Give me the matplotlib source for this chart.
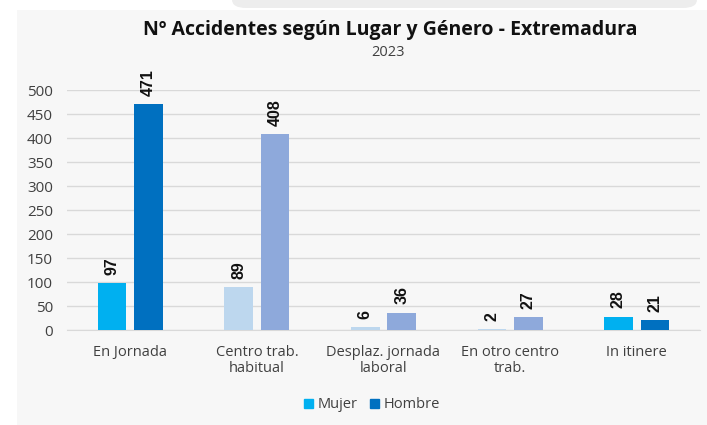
import matplotlib
matplotlib.use("Agg")
import matplotlib.pyplot as plt
import numpy as np
from matplotlib.patches import Rectangle, FancyBboxPatch, Patch

categories = ["En Jornada", "Centro trab.\nhabitual", "Desplaz. jornada\nlaboral",
              "En otro centro\ntrab.", "In itinere"]
mujer = [97, 89, 6, 2, 28]
hombre = [471, 408, 36, 27, 21]
mujer_colors = ["#00B0F0", "#BDD7EE", "#BDD7EE", "#BDD7EE", "#00B0F0"]
hombre_colors = ["#0070C0", "#8EA9DB", "#8EA9DB", "#8EA9DB", "#0070C0"]
yticks = list(range(0, 501, 50))

plt.rcParams["font.family"] = ["Open Sans", "DejaVu Sans"]

fig = plt.figure(figsize=(7.07, 4.25), dpi=100)
fig.patch.set_facecolor("white")

# light panel behind the chart
fig.patches.append(Rectangle((17 / 707, 0), 1 - 17 / 707, 1 - 10 / 425,
                             transform=fig.transFigure, facecolor="#F7F7F7",
                             edgecolor="none", zorder=-10))
fig.patches.append(FancyBboxPatch((232 / 707, 1 - 8 / 425), 465 / 707, 20 / 425,
                                  boxstyle="round,pad=0,rounding_size=0.02",
                                  transform=fig.transFigure, facecolor="#EDEDED",
                                  edgecolor="none", zorder=-10))

ax = fig.add_axes([67 / 707, 1 - 330 / 425, (700 - 67) / 707, (330 - 90) / 425])
ax.set_facecolor("none")
ax.set_zorder(5)

x = np.arange(len(categories))
w = 0.225
off = 0.144
bm = ax.bar(x - off, mujer, w, color=mujer_colors, zorder=3)
bh = ax.bar(x + off, hombre, w, color=hombre_colors, zorder=3)

for bars, vals in ((bm, mujer), (bh, hombre)):
    for b, v in zip(bars, vals):
        ax.annotate(str(v), (b.get_x() + b.get_width() / 2, v),
                    xytext=(0, 6), textcoords="offset points",
                    rotation=90, ha="center", va="bottom",
                    fontsize=11.5, fontweight="bold", color="#111111",
                    family=["Liberation Sans", "DejaVu Sans"])

ax.set_xlim(-0.5, len(categories) - 0.5)
ax.set_ylim(0, 500)
ax.set_yticks(yticks)
ax.yaxis.grid(True, color="#D9D9D9", linewidth=1.0, zorder=0)
ax.set_axisbelow(True)
ax.set_xticks(x)
ax.set_xticklabels(categories, fontsize=10.5, color="#404040", linespacing=1.05)
ax.tick_params(axis="y", labelsize=11, labelcolor="#404040", length=0, pad=10)
ax.tick_params(axis="x", length=0, pad=11)
for s in ax.spines.values():
    s.set_visible(False)
ax.spines["bottom"].set_visible(True)
ax.spines["bottom"].set_color("#D9D9D9")

fig.text(390 / 707, 1 - 30 / 425, "Nº Accidentes según Lugar y Género - Extremadura",
         ha="center", va="center", fontsize=14, fontweight="bold", color="#111111")
fig.text(388 / 707, 1 - 52 / 425, "2023", ha="center", va="center",
         fontsize=10.5, color="#404040")

handles = [Patch(color="#00B0F0", label="Mujer"), Patch(color="#0070C0", label="Hombre")]
fig.legend(handles=handles, loc="center", bbox_to_anchor=(372 / 707, 1 - 405 / 425),
           ncol=2, frameon=False, fontsize=10.5, handlelength=0.6, handleheight=0.6,
           handletextpad=0.3, columnspacing=0.9, labelcolor="#404040")

fig.savefig("out.png", dpi=100, facecolor=fig.get_facecolor())
